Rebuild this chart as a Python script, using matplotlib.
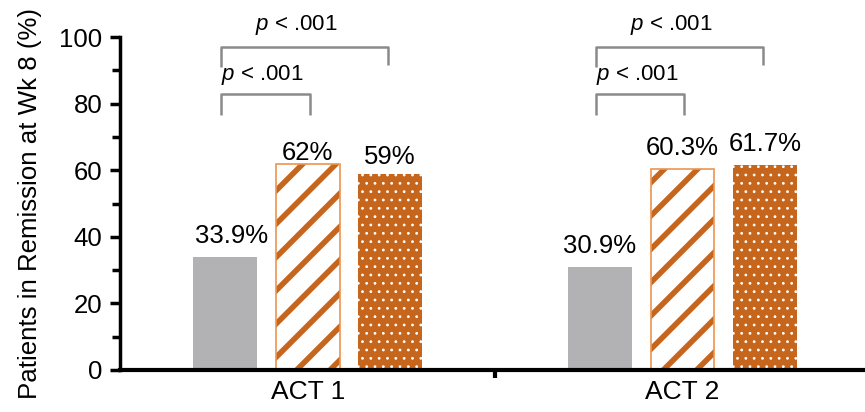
import matplotlib
matplotlib.use("Agg")
import matplotlib.pyplot as plt

plt.rcParams['font.family'] = ['Liberation Sans', 'DejaVu Sans']
plt.rcParams['mathtext.fontset'] = 'custom'
plt.rcParams['mathtext.it'] = 'Liberation Sans:italic'
plt.rcParams['mathtext.rm'] = 'Liberation Sans'

# data
trials = ["ACT 1", "ACT 2"]
placebo = [33.9, 30.9]
dose_low = [62, 60.3]
dose_high = [59, 61.7]
placebo_txt = ["33.9%", "30.9%"]
low_txt = ["62%", "60.3%"]
high_txt = ["59%", "61.7%"]
p_text = r"$\it{p}$ < .001"

# colours
grey = "#B2B1B4"
orange = "#C6651C"
orange_edge = "#EC9550"
bracket = "#8A8A8A"

fig = plt.figure(figsize=(8.65, 4.12), dpi=100)
ax = fig.add_axes([0.139, 0.102, 0.861, 0.808])

w = 0.17
step = 0.22
centres = [0.5, 1.5]

for i, c in enumerate(centres):
    # placebo
    ax.bar(c - step, placebo[i], w, color=grey, linewidth=0)
    # striped bar
    with plt.rc_context({'hatch.linewidth': 4.0}):
        ax.bar(c, dose_low[i], w, facecolor="white", edgecolor=orange,
               hatch="/", linewidth=0)
    ax.bar(c, dose_low[i], w, fill=False, edgecolor=orange_edge, linewidth=1.2)
    # dotted bar
    with plt.rc_context({'hatch.linewidth': 0.8}):
        ax.bar(c + step, dose_high[i], w, facecolor=orange, edgecolor="white",
               hatch="..", linewidth=0)

    # value labels
    ax.text(c - step + (0.016 if i == 0 else 0), placebo[i] + 2.8, placebo_txt[i],
            ha="center", va="bottom", fontsize=18.5)
    ax.text(c, dose_low[i] + (-0.3 if i == 0 else 2.8), low_txt[i],
            ha="center", va="bottom", fontsize=18.5)
    ax.text(c + step, dose_high[i] + (1.4 if i == 0 else 2.5), high_txt[i],
            ha="center", va="bottom", fontsize=18.5)

    # significance brackets
    xl = c - step - 0.012
    ax.plot([xl, xl, c + step - 0.005, c + step - 0.005], [91, 97, 97, 91.5],
            color=bracket, lw=1.8, clip_on=False, solid_capstyle="butt")
    ax.plot([xl, xl, c + 0.005, c + 0.005], [76.5, 83, 83, 76.5],
            color=bracket, lw=1.8, clip_on=False, solid_capstyle="butt")
    ax.text(c - 0.03, 103.5, p_text, ha="center", va="center", fontsize=16)
    ax.text(c - 0.12, 88.5, p_text, ha="center", va="center", fontsize=16)

ax.set_xlim(0, 1.987)
ax.set_ylim(0, 100)

ax.spines["top"].set_visible(False)
ax.spines["right"].set_visible(False)
ax.spines["left"].set_linewidth(2.5)
ax.spines["bottom"].set_linewidth(3)

ax.set_yticks([0, 20, 40, 60, 80, 100])
ax.set_yticks([10, 30, 50, 70, 90], minor=True)
ax.tick_params(axis="y", which="major", length=7, width=2.5, labelsize=18.5, pad=6)
ax.tick_params(axis="y", which="minor", length=6, width=2.5)

ax.set_xticks([1])
ax.set_xticklabels([""])
ax.set_xticks(centres, minor=True)
ax.set_xticklabels(trials, minor=True)
ax.tick_params(axis="x", which="major", length=6, width=3)
ax.tick_params(axis="x", which="minor", length=0, labelsize=19, pad=7)

ax.set_ylabel("Patients in Remission at Wk 8 (%)", fontsize=18.6)
ax.yaxis.set_label_coords(-0.105, 0.5)

fig.savefig("out.png", dpi=100)
